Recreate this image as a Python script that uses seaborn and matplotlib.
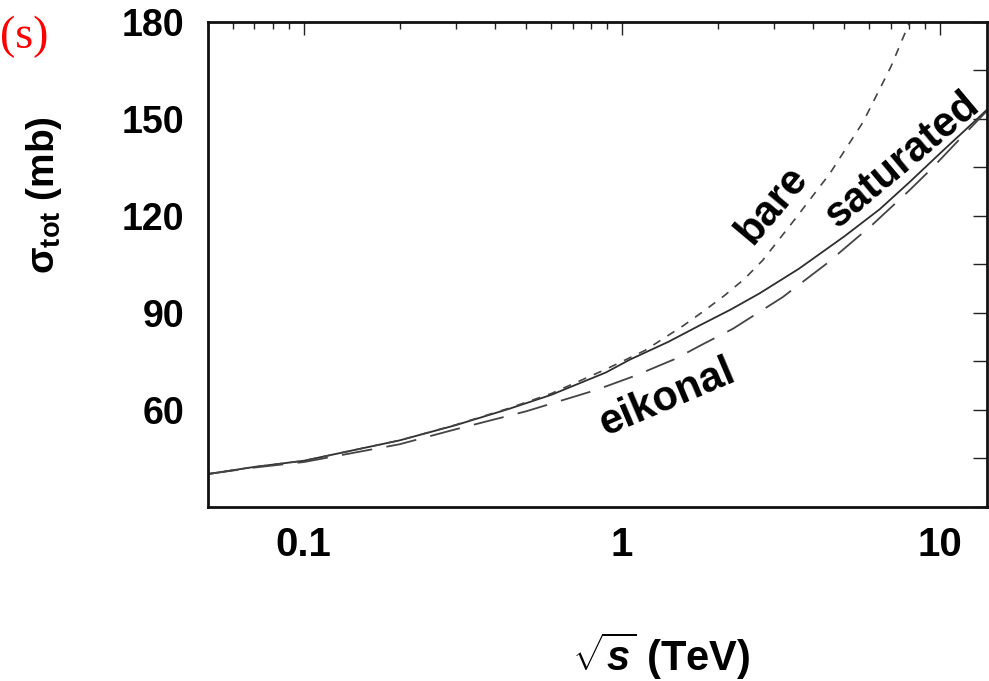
import numpy as np
import pandas as pd
import matplotlib
matplotlib.use("Agg")
import matplotlib.pyplot as plt
import matplotlib.ticker as mticker
import seaborn as sns

# total cross section vs centre-of-mass energy (TeV, mb)
sqrt_s_sat = [0.05, 0.07, 0.1, 0.2, 0.3, 0.44, 0.6, 0.89, 1.06, 1.4, 1.75, 2.2, 2.71, 3.6, 5.0, 6.46, 8.0, 10.0, 13.3, 14.0]
sigma_sat = [40.1, 42.3, 44.2, 50.5, 55.2, 60.2, 64.6, 71.5, 75.5, 81.0, 86.0, 91.0, 96.0, 103.6, 113.6, 122.0, 130.3, 139.3, 150.6, 152.7]

sqrt_s_eik = [0.05, 0.07, 0.1, 0.2, 0.294, 0.5, 0.83, 1.1, 1.47, 1.8, 2.23, 3.2, 4.39, 6.14, 8.0, 9.48, 12.0, 14.0]
sigma_eik = [40.1, 42.1, 43.8, 49.3, 53.7, 59.5, 66.1, 70.5, 75.7, 80.3, 85.0, 94.8, 105.1, 117.3, 127.8, 134.9, 145.5, 152.3]

sqrt_s_bare = [0.05, 0.07, 0.1, 0.2, 0.3, 0.44, 0.6, 0.89, 1.18, 1.56, 1.82, 2.1, 2.43, 2.77, 3.44, 4.5, 5.73, 7.0, 8.03, 9.0]
sigma_bare = [40.1, 42.3, 44.2, 50.5, 55.3, 60.4, 65.0, 72.5, 78.3, 86.0, 90.7, 95.3, 100.5, 106.2, 118.0, 133.0, 149.0, 166.0, 180.0, 195.0]

curve_labels = ["saturated", "eikonal", "bare"]
x_ticks = [0.1, 1, 10]
x_tick_labels = ["0.1", "1", "10"]
y_ticks = [60, 90, 120, 150, 180]

sns.set_theme(style="white")
plt.rcParams["font.family"] = ["Liberation Sans", "DejaVu Sans"]
plt.rcParams["font.weight"] = "bold"
plt.rcParams["text.color"] = "black"
plt.rcParams["axes.labelcolor"] = "black"
plt.rcParams["xtick.color"] = "black"
plt.rcParams["ytick.color"] = "black"
plt.rcParams["mathtext.fontset"] = "custom"
plt.rcParams["mathtext.rm"] = "Liberation Sans:bold"
plt.rcParams["mathtext.bf"] = "Liberation Sans:bold"
plt.rcParams["mathtext.it"] = "Liberation Sans:italic:bold"

fig = plt.figure(figsize=(9.89, 6.81), dpi=100)
ax = fig.add_axes([0.2103, 0.256, 0.7877, 0.712])

sat = pd.DataFrame({"sqrt_s": sqrt_s_sat, "sigma": sigma_sat})
eik = pd.DataFrame({"sqrt_s": sqrt_s_eik, "sigma": sigma_eik})
bare = pd.DataFrame({"sqrt_s": sqrt_s_bare, "sigma": sigma_bare})

sns.lineplot(data=sat, x="sqrt_s", y="sigma", ax=ax, color="#2e2e2e",
             linewidth=1.3, linestyle="-", sort=False)
sns.lineplot(data=eik, x="sqrt_s", y="sigma", ax=ax, color="#444444",
             linewidth=1.3, linestyle=(0, (17, 8)), sort=False)
sns.lineplot(data=bare, x="sqrt_s", y="sigma", ax=ax, color="#444444",
             linewidth=1.2, linestyle=(0, (5, 5)), sort=False)

ax.set_xscale("log")
ax.set_xlim(0.05, 14.05)
ax.set_ylim(30, 180)

ax.xaxis.set_major_locator(mticker.FixedLocator(x_ticks))
ax.xaxis.set_major_formatter(mticker.FixedFormatter(x_tick_labels))
ax.xaxis.set_minor_locator(mticker.LogLocator(base=10, subs=np.arange(2, 10)))
ax.xaxis.set_minor_formatter(mticker.NullFormatter())
ax.yaxis.set_major_locator(mticker.FixedLocator(y_ticks))
ax.yaxis.set_minor_locator(mticker.MultipleLocator(15))

ax.tick_params(which="both", direction="in", top=True, right=True,
               color="#222222", width=1.0)
ax.tick_params(axis="x", which="major", length=9, labelsize=29, pad=14)
ax.tick_params(axis="x", which="minor", length=5)
ax.tick_params(axis="y", which="both", length=10)
ax.tick_params(axis="y", which="major", labelsize=27, pad=17)
for lab in ax.get_xticklabels() + ax.get_yticklabels():
    lab.set_fontweight("bold")

for sp in ax.spines.values():
    sp.set_linewidth(2.0)
    sp.set_color("#111111")

ax.set_xlabel("")
ax.set_ylabel("")

# curve names written along the lines
ax.text(2.96, 123.2, curve_labels[2], rotation=50, fontsize=30, fontweight="bold",
        ha="center", va="center", rotation_mode="anchor")
ax.text(7.63, 137.1, curve_labels[0], rotation=40, fontsize=30, fontweight="bold",
        ha="center", va="center", rotation_mode="anchor")
ax.text(1.39, 63.7, curve_labels[1], rotation=23, fontsize=30, fontweight="bold",
        ha="center", va="center", rotation_mode="anchor")

fig.text(0.044, 0.714, "σ$_{\\mathrm{tot}}$ (mb)", rotation=90, fontsize=28,
         fontweight="bold", ha="center", va="center")
fig.text(0.669, 0.036, r"$\sqrt{\mathit{s}}$ (TeV)", fontsize=30,
         fontweight="bold", ha="center", va="center")
fig.text(0.0, 0.946, "(s)", color="red", fontsize=33, family="Liberation Serif",
         fontweight="normal", ha="left", va="center")

fig.savefig("out.png", dpi=100)
